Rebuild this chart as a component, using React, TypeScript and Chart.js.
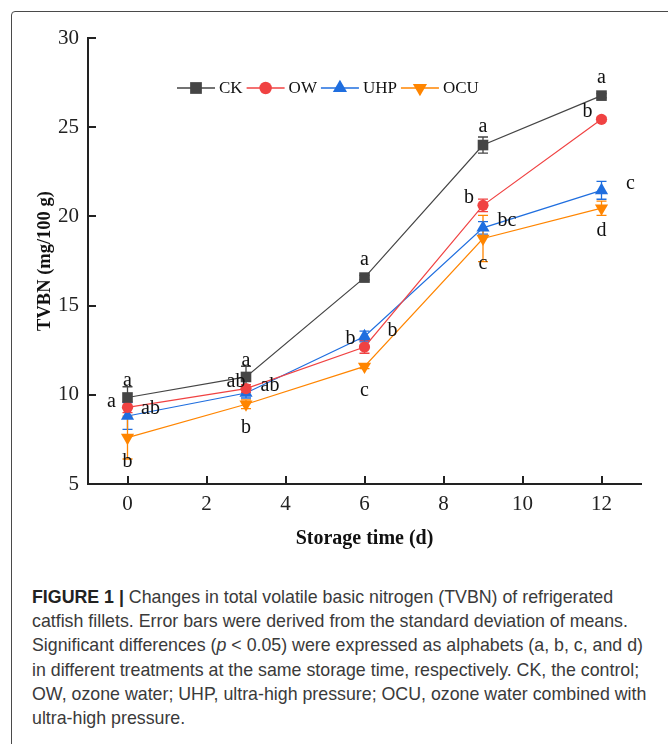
import React, { useEffect, useRef } from "react";
import { Chart, registerables } from "chart.js";

Chart.register(...registerables);

// ---------- data ----------
const days = [0, 3, 6, 9, 12];
const xTicks = [0, 2, 4, 6, 8, 10, 12];
const yTicks = [5, 10, 15, 20, 25, 30];

const seriesNames = ["CK", "OW", "UHP", "OCU"];
const ckValues = [9.85, 11.0, 16.57, 24.0, 26.77];
const owValues = [9.3, 10.35, 12.68, 20.62, 25.44];
const uhpValues = [8.81, 10.1, 13.27, 19.36, 21.46];
const ocuValues = [7.6, 9.47, 11.59, 18.76, 20.46];

const ckErr = [0.6, 0.6, 0.12, 0.45, 0.12];
const owErr = [0.3, 0.22, 0.35, 0.35, 0.12];
const uhpErr = [0.75, 0.28, 0.3, 0.35, 0.5];
const ocuErr = [1.2, 0.25, 0.12, 1.3, 0.4];

const ckLetters = ["a", "a", "a", "a", "a"];
const owLetters = ["a", "ab", "b", "b", "b"];
const uhpLetters = ["ab", "ab", "b", "bc", "c"];
const ocuLetters = ["b", "b", "c", "c", "d"];

// ---------- styles / placement ----------
const COLORS = ["#454545", "#F04242", "#1F6EDF", "#FF8500"];
const POINT_STYLES = ["rect", "circle", "triangle", "triangle"];
const POINT_ROT = [0, 0, 0, 180];
const POINT_R = [7.5, 5.6, 7.6, 7.6];
const AXIS = "#222222";
const SERIF = "'Liberation Serif', 'Times New Roman', serif";

// letter offsets (px, relative to the point centre)
const letterDx = [
  [0, 0, 0, 0, 0],
  [-16, -10, -14, -14, -14],
  [23, 24, 28, 24, 29],
  [0, 0, 0, 0, 0],
];
const letterDy = [
  [-17, -16, -18, -18, -18],
  [-6, -7, -8, -8, -8],
  [-7, -7, -6, -7, -7],
  [24, 23, 24, 25, 23],
];

const values = [ckValues, owValues, uhpValues, ocuValues];
const errs = [ckErr, owErr, uhpErr, ocuErr];
const letters = [ckLetters, owLetters, uhpLetters, ocuLetters];

function drawMarker(ctx: CanvasRenderingContext2D, kind: number, x: number, y: number, r: number) {
  ctx.beginPath();
  if (kind === 0) {
    const s = r * Math.SQRT1_2;
    ctx.rect(x - s, y - s, 2 * s, 2 * s);
  } else if (kind === 1) {
    ctx.arc(x, y, r, 0, Math.PI * 2);
  } else {
    const dir = kind === 2 ? 1 : -1;
    const w = r * Math.sqrt(3) / 2;
    ctx.moveTo(x, y - dir * r);
    ctx.lineTo(x + w, y + dir * r / 2);
    ctx.lineTo(x - w, y + dir * r / 2);
    ctx.closePath();
  }
  ctx.fill();
}

const overlay = {
  id: "overlay",
  beforeDatasetsDraw(chart: any) {
    const { ctx, chartArea } = chart;
    const xs = chart.scales.x;
    const ys = chart.scales.y;
    ctx.save();
    // inward tick marks
    ctx.strokeStyle = AXIS;
    ctx.lineWidth = 2;
    yTicks.forEach((v) => {
      const py = Math.round(ys.getPixelForValue(v));
      ctx.beginPath();
      ctx.moveTo(chartArea.left, py);
      ctx.lineTo(chartArea.left + 8, py);
      ctx.stroke();
    });
    xTicks.forEach((v) => {
      const px = Math.round(xs.getPixelForValue(v));
      ctx.beginPath();
      ctx.moveTo(px, chartArea.bottom);
      ctx.lineTo(px, chartArea.bottom - 8);
      ctx.stroke();
    });
    // error bars
    ctx.lineWidth = 1.3;
    values.forEach((vals, si) => {
      ctx.strokeStyle = COLORS[si];
      vals.forEach((v, i) => {
        const px = xs.getPixelForValue(days[i]);
        const t = ys.getPixelForValue(v + errs[si][i]);
        const b = ys.getPixelForValue(v - errs[si][i]);
        ctx.beginPath();
        ctx.moveTo(px, t);
        ctx.lineTo(px, b);
        ctx.moveTo(px - 5, t);
        ctx.lineTo(px + 5, t);
        ctx.moveTo(px - 5, b);
        ctx.lineTo(px + 5, b);
        ctx.stroke();
      });
    });
    ctx.restore();
  },
  afterDatasetsDraw(chart: any) {
    const { ctx, chartArea } = chart;
    const xs = chart.scales.x;
    const ys = chart.scales.y;
    ctx.save();
    // significance letters
    ctx.fillStyle = "#111";
    ctx.font = `20px ${SERIF}`;
    ctx.textAlign = "center";
    ctx.textBaseline = "middle";
    values.forEach((vals, si) => {
      vals.forEach((v, i) => {
        const px = xs.getPixelForValue(days[i]) + letterDx[si][i];
        const py = ys.getPixelForValue(v) + letterDy[si][i];
        ctx.fillText(letters[si][i], px, py);
      });
    });
    // legend
    let lx = chartArea.left + 89;
    const ly = chartArea.top + 50;
    ctx.font = `17px ${SERIF}`;
    ctx.textAlign = "left";
    seriesNames.forEach((name, si) => {
      ctx.strokeStyle = COLORS[si];
      ctx.fillStyle = COLORS[si];
      ctx.lineWidth = 1.3;
      ctx.beginPath();
      ctx.moveTo(lx, ly);
      ctx.lineTo(lx + 38, ly);
      ctx.stroke();
      drawMarker(ctx, si, lx + 19, ly, [8.3, 6.2, 8.2, 8.2][si]);
      ctx.fillStyle = "#111";
      ctx.fillText(name, lx + 42, ly + 1);
      lx += 42 + ctx.measureText(name).width + 4;
    });
    // axis titles
    ctx.fillStyle = "#111";
    ctx.font = `bold 20px ${SERIF}`;
    ctx.textAlign = "center";
    ctx.fillText("Storage time (d)", (chartArea.left + chartArea.right) / 2, chartArea.bottom + 55);
    ctx.save();
    ctx.translate(chartArea.left - 43, (chartArea.top + chartArea.bottom) / 2);
    ctx.rotate(-Math.PI / 2);
    ctx.font = `bold 18.5px ${SERIF}`;
    ctx.fillText("TVBN (mg/100 g)", 0, 0);
    ctx.restore();
    ctx.restore();
  },
};

function ChartBox() {
  const ref = useRef<HTMLCanvasElement | null>(null);
  useEffect(() => {
    if (!ref.current) return;
    const chart = new Chart(ref.current, {
      type: "line",
      data: {
        datasets: seriesNames.map((name, si) => ({
          label: name,
          data: days.map((d, i) => ({ x: d, y: values[si][i] })),
          borderColor: COLORS[si],
          backgroundColor: COLORS[si],
          borderWidth: 1.2,
          pointStyle: POINT_STYLES[si] as any,
          rotation: POINT_ROT[si],
          pointRadius: POINT_R[si],
          pointBorderWidth: 0,
          pointBackgroundColor: COLORS[si],
          tension: 0,
        })),
      },
      options: {
        animation: false,
        responsive: false,
        devicePixelRatio: 1,
        layout: { padding: { left: 0, right: 27, top: 38, bottom: 0 } },
        plugins: { legend: { display: false }, tooltip: { enabled: false } },
        scales: {
          x: {
            type: "linear",
            min: -1,
            max: 13,
            afterBuildTicks: (s: any) => {
              s.ticks = xTicks.map((v) => ({ value: v }));
            },
            afterFit: (s: any) => {
              s.height = 76;
            },
            grid: { display: false, drawTicks: false },
            border: { display: true, color: AXIS, width: 2 },
            ticks: { color: "#222", font: { family: SERIF, size: 21 }, padding: 8, maxRotation: 0 },
          },
          y: {
            min: 5,
            max: 30,
            afterBuildTicks: (s: any) => {
              s.ticks = yTicks.map((v) => ({ value: v }));
            },
            afterFit: (s: any) => {
              s.width = 88;
            },
            grid: { display: false, drawTicks: false },
            border: { display: true, color: AXIS, width: 2 },
            ticks: { color: "#222", font: { family: SERIF, size: 21 }, padding: 9 },
          },
        },
      },
      plugins: [overlay],
    } as any);
    return () => chart.destroy();
  }, []);
  return <canvas ref={ref} width={668} height={560} style={{ position: "absolute", left: 0, top: 0, width: 668, height: 560 }} />;
}

const captionLines = [
  "catfish fillets. Error bars were derived from the standard deviation of means.",
  "in different treatments at the same storage time, respectively. CK, the control;",
  "OW, ozone water; UHP, ultra-high pressure; OCU, ozone water combined with",
  "ultra-high pressure.",
];

export default function App() {
  const lineStyle: React.CSSProperties = { whiteSpace: "nowrap", height: 24.2, lineHeight: "24.2px" };
  return (
    <div style={{ position: "absolute", left: 0, top: 0, width: 668, height: 744, overflow: "hidden", background: "#fff" }}>
      <div
        style={{
          position: "absolute",
          left: 11,
          top: 11,
          width: 720,
          height: 800,
          border: "1.3px solid #4a4a4a",
          borderRadius: 4,
          boxSizing: "border-box",
        }}
      />
      <ChartBox />
      <div
        style={{
          position: "absolute",
          left: 32,
          top: 585,
          fontFamily: "'Liberation Sans', Arial, sans-serif",
          fontSize: 17.8,
          color: "#3a3a3a",
        }}
      >
        <div style={lineStyle}>
          <b style={{ color: "#222" }}>FIGURE 1 |</b> Changes in total volatile basic nitrogen (TVBN) of refrigerated
        </div>
        <div style={lineStyle}>{captionLines[0]}</div>
        <div style={lineStyle}>
          Significant differences (<i>p</i> &lt; 0.05) were expressed as alphabets (a, b, c, and d)
        </div>
        <div style={lineStyle}>{captionLines[1]}</div>
        <div style={lineStyle}>{captionLines[2]}</div>
        <div style={lineStyle}>{captionLines[3]}</div>
      </div>
    </div>
  );
}
